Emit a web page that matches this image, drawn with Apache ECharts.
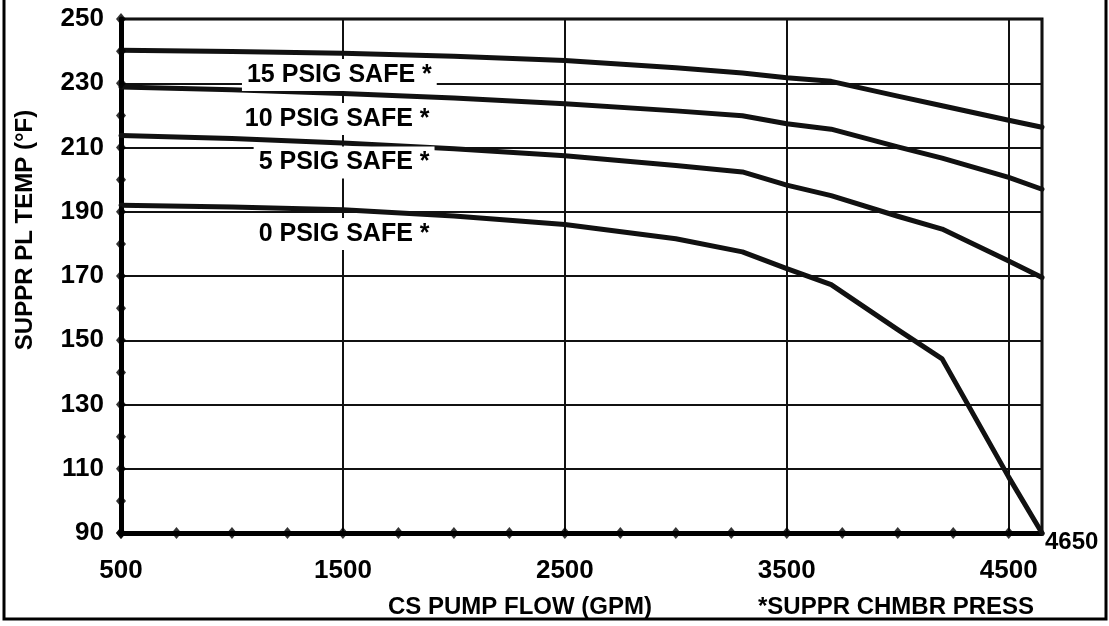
<!DOCTYPE html>
<html><head><meta charset="utf-8">
<script src="https://cdn.jsdelivr.net/npm/echarts@6/dist/echarts.min.js"></script>
<style>html,body{margin:0;padding:0;background:#fff}#c{width:1109px;height:626px}</style>
</head><body><div id="c"></div>
<script>
// CS pump flow (GPM) sample points shared by all curves
const flow   = [500, 1000, 1500, 2000, 2500, 3000, 3300, 3500, 3700, 4000, 4200, 4500, 4650];
// Suppression pool temperature limits (deg F) per chamber pressure
const temp15 = [240.3, 239.9, 239.3, 238.4, 237.1, 234.8, 233.2, 231.7, 230.6, 226.0, 223.0, 218.5, 216.3];
const temp10 = [228.8, 228.0, 226.8, 225.4, 223.6, 221.4, 219.9, 217.4, 215.7, 210.2, 206.7, 200.7, 197.0];
const temp5  = [213.7, 212.8, 211.4, 209.6, 207.4, 204.4, 202.4, 198.3, 195.0, 188.6, 184.6, 174.7, 169.5];
const temp0  = [192.0, 191.5, 190.6, 188.7, 186.0, 181.6, 177.5, 172.3, 167.3, 153.3, 144.2, 107.4, 90.0];
const curveNames = ['15 PSIG SAFE *', '10 PSIG SAFE *', '5 PSIG SAFE *', '0 PSIG SAFE *'];
// axis tick marks (diamonds) and labels
const yMarks = [90, 100, 110, 120, 130, 140, 150, 160, 170, 180, 190, 200, 210, 220, 230, 240, 250];
const xMarks = [500, 750, 1000, 1250, 1500, 1750, 2000, 2250, 2500, 2750, 3000, 3250, 3500, 3750, 4000, 4250, 4500];
const xTickLabels = [500, 1500, 2500, 3500, 4500];
const xEndLabel = '4650';
const xTitle = 'CS PUMP FLOW (GPM)';
const yTitle = 'SUPPR PL TEMP (°F)';
const noteText = '*SUPPR CHMBR PRESS';

const FONT = '"Liberation Sans", Arial, sans-serif';
const chart = echarts.init(document.getElementById('c'));
const labelAnchors = [[1925, 232.6], [1915, 218.9], [1915, 205.3], [1915, 183.1]];
const allTemps = [temp15, temp10, temp5, temp0];

const lineSeries = allTemps.map((t, k) => ({
  name: curveNames[k],
  type: 'line',
  data: flow.map((f, i) => [f, t[i]]),
  showSymbol: false,
  smooth: false,
  z: 3,
  lineStyle: { color: '#111', width: 5, join: 'round', cap: 'round' },
  markPoint: {
    symbol: 'rect', symbolSize: 1, silent: true,
    itemStyle: { color: 'rgba(0,0,0,0)' },
    label: {
      show: true, position: 'left', distance: 0,
      formatter: curveNames[k], color: '#000',
      fontFamily: FONT, fontWeight: 'bold', fontSize: 25,
      backgroundColor: '#fff', padding: [3, 5, 4, 5]
    },
    data: [{ coord: labelAnchors[k] }]
  }
}));

chart.setOption({
  animation: false,
  backgroundColor: '#fff',
  grid: { left: 121, right: 67, top: 19, bottom: 93, show: true, borderColor: '#000', borderWidth: 3, backgroundColor: 'rgba(0,0,0,0)' },
  xAxis: {
    type: 'value', min: 500, max: 4650, interval: 1000,
    axisLine: { onZero: false, lineStyle: { color: '#000', width: 5 } },
    axisTick: { show: false },
    splitLine: { show: true, lineStyle: { color: '#111', width: 2 } },
    axisLabel: {
      color: '#000', fontFamily: FONT, fontWeight: 'bold', fontSize: 26, margin: 25,
      formatter: v => xTickLabels.indexOf(v) >= 0 ? String(v) : ''
    }
  },
  yAxis: {
    type: 'value', min: 90, max: 250, interval: 20,
    axisLine: { onZero: false, lineStyle: { color: '#000', width: 5 } },
    axisTick: { show: false },
    splitLine: { show: true, lineStyle: { color: '#111', width: 2 } },
    axisLabel: { color: '#000', fontFamily: FONT, fontWeight: 'bold', fontSize: 26, margin: 17 }
  },
  series: lineSeries.concat([{
    type: 'scatter', symbol: 'diamond', symbolSize: [10, 12], clip: false, silent: true, z: 5,
    itemStyle: { color: '#000' },
    data: yMarks.map(v => [500, v]).concat(xMarks.map(v => [v, 90]))
  }])
});

const endPt = chart.convertToPixel({ gridIndex: 0 }, [4650, 90]);
chart.setOption({
  graphic: [
    { type: 'rect', silent: true, shape: { x: 4, y: -10, width: 1102, height: 629 },
      style: { fill: 'none', stroke: '#000', lineWidth: 3 } },
    { type: 'text', x: endPt[0] + 3, y: endPt[1] + 9,
      style: { text: xEndLabel, fill: '#000', font: 'bold 24px ' + FONT, textAlign: 'left', textVerticalAlign: 'middle' } },
    { type: 'text', x: 388, y: 607,
      style: { text: xTitle, fill: '#000', font: 'bold 24px ' + FONT, textAlign: 'left', textVerticalAlign: 'middle' } },
    { type: 'text', x: 758, y: 607,
      style: { text: noteText, fill: '#000', font: 'bold 24px ' + FONT, textAlign: 'left', textVerticalAlign: 'middle' } },
    { type: 'text', x: 25, y: 230, rotation: Math.PI / 2,
      style: { text: yTitle, fill: '#000', font: 'bold 24px ' + FONT, textAlign: 'center', textVerticalAlign: 'middle' } }
  ]
});
</script></body></html>
